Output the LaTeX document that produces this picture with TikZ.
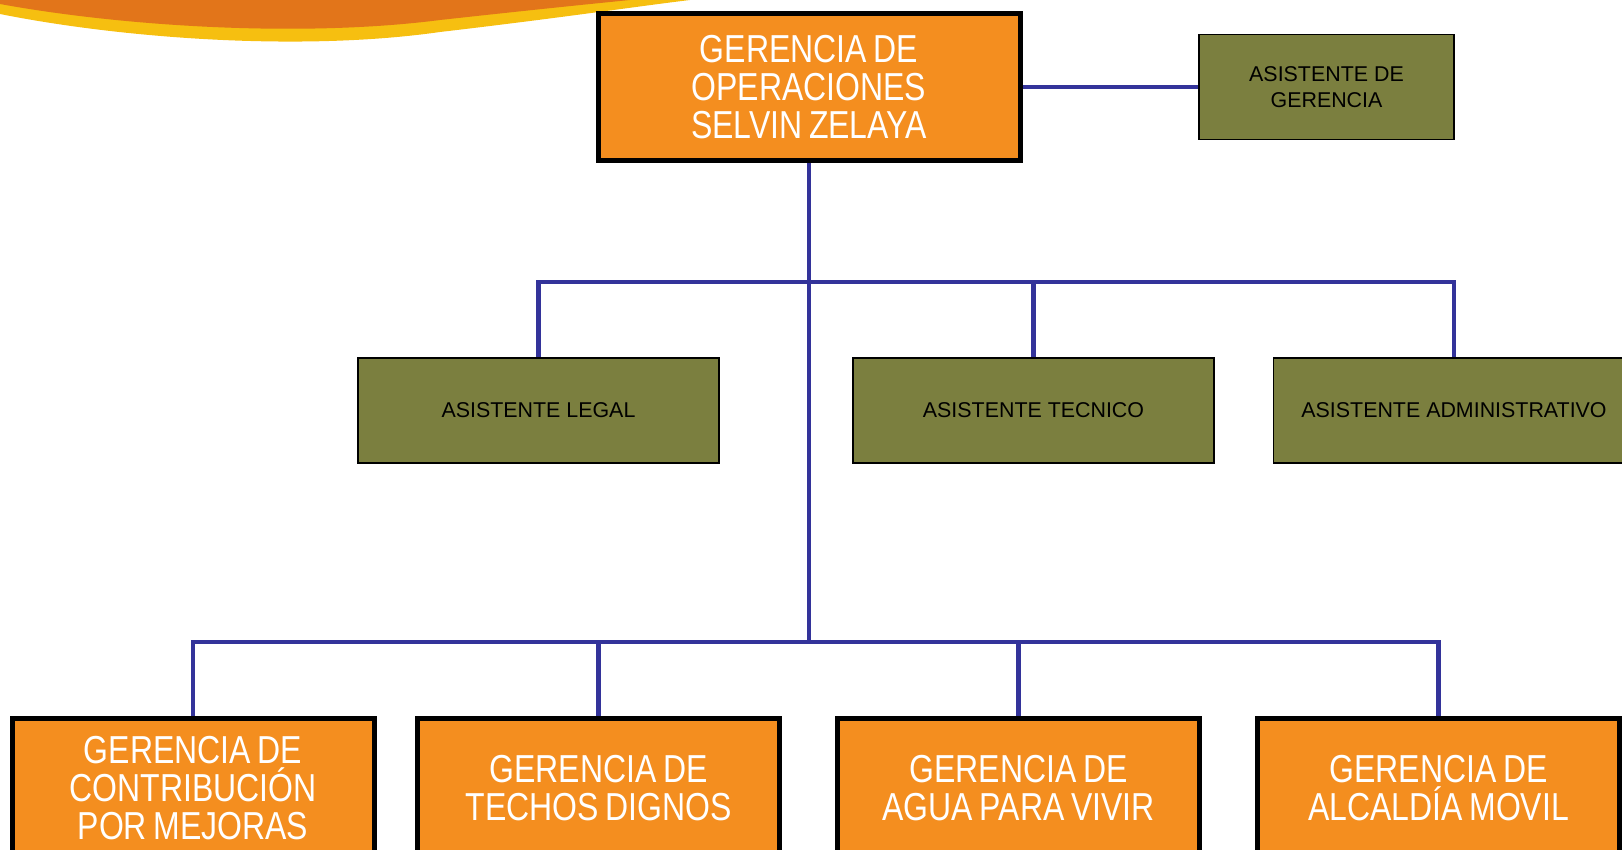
\documentclass[tikz,border=0pt]{standalone}
\usepackage{fontspec}
\setmainfont{Liberation Sans}
\newfontfamily\narrowsans{Liberation Sans}[FakeStretch=0.82, WordSpace=0.75]
\usepackage{tikz}
\usetikzlibrary{positioning}

\definecolor{boxorange}{HTML}{F48E1F}
\definecolor{boxgreen}{HTML}{7B7F3F}
\definecolor{linkblue}{HTML}{33339A}
\definecolor{swooshorange}{HTML}{E2751A}
\definecolor{swooshyellow}{HTML}{F6BF10}

\tikzstyle{gerencia} = [rectangle, minimum width = 181pt, minimum height = 70pt, align = center, draw = black, line width = 2.5pt, fill = boxorange, text = white, font = \narrowsans\fontsize{19.5}{19}\selectfont, inner sep = 0pt]
\tikzstyle{asistente} = [rectangle, minimum width = 180.5pt, minimum height = 52.5pt, align = center, draw = black, line width = 0.8pt, fill = boxgreen, text = black, font = \fontsize{10.7}{13}\selectfont, inner sep = 0pt]
\tikzstyle{link} = [line width = 2.4pt, draw = linkblue]

\begin{document}
\begin{tikzpicture}[x = 0.5pt, y = -0.5pt]
\useasboundingbox (0,0) rectangle (1622,850);

% swoosh in the corner
\fill[swooshyellow] (0,0) -- (0,14) .. controls (120,38) and (300,52) .. (440,32) .. controls (560,18) and (640,6) .. (690,0) -- cycle;
\fill[swooshorange] (0,0) -- (0,4) .. controls (120,26) and (300,38) .. (440,20) .. controls (540,9) and (600,3) .. (630,0) -- cycle;

\node(ops) [gerencia, minimum width = 211pt, minimum height = 73.5pt] at (809,87) {GERENCIA DE\\OPERACIONES\\SELVIN ZELAYA};
\node(asisger) [asistente, minimum width = 127.5pt] at (1326.5,87) {ASISTENTE DE\\GERENCIA};

\node(legal)   [asistente] at (538.5,410.5) {ASISTENTE LEGAL};
\node(tecnico) [asistente] at (1033.5,410.5) {ASISTENTE TECNICO};
\node(admin)   [asistente] at (1454,410.5) {ASISTENTE ADMINISTRATIVO};

\node(contrib) [gerencia] at (193,788) {GERENCIA DE\\CONTRIBUCIÓN\\POR MEJORAS};
\node(techos)  [gerencia] at (598.5,788) {GERENCIA DE\\TECHOS DIGNOS};
\node(agua)    [gerencia] at (1018.5,788) {GERENCIA DE\\AGUA PARA VIVIR};
\node(movil)   [gerencia] at (1438.5,788) {GERENCIA DE\\ALCALDÍA MOVIL};

\coordinate (midbar) at (809,282);
\coordinate (lowbar) at (809,642);

\draw [link] (ops.east) -- (asisger.west);
\draw [link] (ops.south) -- (lowbar);
\foreach \n in {legal,tecnico,admin}
  \draw [link] (midbar) -| (\n.north);
\foreach \n in {contrib,techos,agua,movil}
  \draw [link] (lowbar) -| (\n.north);

\end{tikzpicture}
\end{document}
